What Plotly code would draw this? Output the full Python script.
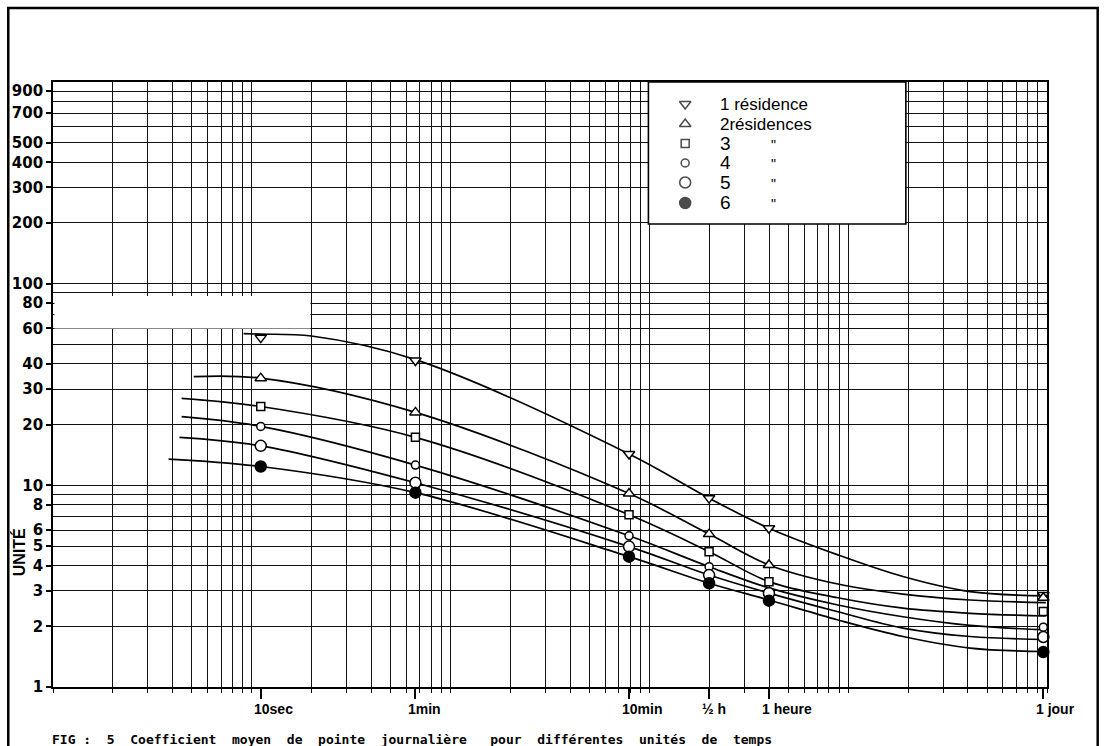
import numpy as np
import plotly.graph_objects as go

# ---------------- data ----------------
series_names = ["1 résidence", "2résidences", "3", "4", "5", "6"]
time_labels = ["10sec", "1min", "10min", "½ h", "1 heure", "1 jour"]
# horizontal position (in seconds) of each measured column, as drawn on the log paper
time_s = [10, 60, 712, 1800, 3600, 86400]

pts_1 = [54.0, 41.6, 14.3, 8.64, 6.13, 2.86]
pts_2 = [34.0, 23.0, 9.1, 5.73, 4.03, 2.77]
pts_3 = [24.6, 17.3, 7.15, 4.69, 3.33, 2.37]
pts_4 = [19.6, 12.6, 5.62, 3.95, 2.94, 1.98]
pts_5 = [15.7, 10.3, 4.97, 3.59, 2.92, 1.77]
pts_6 = [12.4, 9.2, 4.43, 3.27, 2.68, 1.49]

# hand-drawn fitted curves, read at points along each line
curve_t_1 = [8.2, 10, 18, 60, 712, 1800, 3600, 8000, 17000, 37000, 89000]
curve_v_1 = [56.5, 56.2, 55.0, 42.0, 14.3, 8.64, 6.13, 4.52, 3.53, 2.97, 2.83]
curve_t_2 = [4.6, 10, 60, 712, 1800, 3600, 8000, 17000, 37000, 89000]
curve_v_2 = [34.6, 34.0, 23.0, 9.1, 5.73, 4.03, 3.24, 2.89, 2.70, 2.62]
curve_t_3 = [4.0, 10, 60, 712, 1800, 3600, 8000, 17000, 37000, 89000]
curve_v_3 = [27.0, 24.6, 17.3, 7.15, 4.69, 3.33, 2.77, 2.46, 2.32, 2.25]
curve_t_4 = [4.0, 10, 60, 712, 1800, 3600, 8000, 17000, 37000, 89000]
curve_v_4 = [21.9, 19.6, 12.6, 5.62, 3.95, 3.10, 2.55, 2.23, 2.02, 1.92]
curve_t_5 = [3.9, 10, 60, 712, 1800, 3600, 8000, 17000, 37000, 89000]
curve_v_5 = [17.3, 15.7, 10.3, 4.97, 3.59, 2.92, 2.36, 1.96, 1.78, 1.72]
curve_t_6 = [3.44, 10, 60, 712, 1800, 3600, 8000, 17000, 37000, 89000]
curve_v_6 = [13.5, 12.4, 9.2, 4.43, 3.27, 2.70, 2.15, 1.78, 1.56, 1.50]

y_tick_vals = [1, 2, 3, 4, 5, 6, 8, 10, 20, 30, 40, 60, 80, 100, 200, 300, 400, 500, 700, 900]

caption = ("FIG :\u00a0\u00a05\u00a0\u00a0Coefficient\u00a0\u00a0moyen\u00a0\u00a0de\u00a0\u00a0pointe"
           "\u00a0\u00a0journalière\u00a0\u00a0\u00a0pour\u00a0\u00a0différentes\u00a0\u00a0unités"
           "\u00a0\u00a0de\u00a0\u00a0temps")

# ---------------- layout constants ----------------
W, H = 1108, 746
PL, PR, PT, PB = 47, 1047, 82, 687
X_LOG_MIN = -0.045
X_LOG_MAX = X_LOG_MIN + 5
GRID = "#111111"
GRID_W = 1.35

symbols = ["triangle-down", "triangle-up", "square", "circle", "circle", "circle"]
sizes = [10, 10, 8, 8, 11, 11]
fills = ["white", "white", "white", "white", "white", "black"]


def fx(px):
    return (px - PL) / (PR - PL)


def fy(py):
    return (PB - py) / (PB - PT)


grid_base = 10 ** X_LOG_MIN
grid_x = [grid_base * m * 10 ** k for k in range(5) for m in range(1, 10)] + [grid_base * 1e5]
grid_y_all = [m * 10 ** k for k in range(3) for m in range(1, 10)] + [1000]
minor_y = [v for v in grid_y_all if v not in y_tick_vals]

fig = go.Figure()

curves = [(curve_t_1, curve_v_1), (curve_t_2, curve_v_2), (curve_t_3, curve_v_3),
          (curve_t_4, curve_v_4), (curve_t_5, curve_v_5), (curve_t_6, curve_v_6)]
for t, v in curves:
    fig.add_trace(go.Scatter(x=t, y=v, mode="lines",
                             line=dict(color="black", width=1.7, shape="spline", smoothing=1.0),
                             showlegend=False, hoverinfo="skip"))

all_pts = [pts_1, pts_2, pts_3, pts_4, pts_5, pts_6]
for name, vals, sym, sz, fc in zip(series_names, all_pts, symbols, sizes, fills):
    fig.add_trace(go.Scatter(x=time_s, y=vals, mode="markers", name=name,
                             marker=dict(symbol=sym, size=sz, color=fc,
                                         line=dict(color="black", width=1.5)),
                             showlegend=False, cliponaxis=False))


# white boxes cut into the grid (overlay axes spanning the plot area, in fractions)
def box_trace(x0, x1, y0, y1, edge):
    return go.Scatter(x=[fx(x0), fx(x1), fx(x1), fx(x0), fx(x0)],
                      y=[fy(y0), fy(y0), fy(y1), fy(y1), fy(y0)],
                      xaxis="x3", yaxis="y3", mode="lines", fill="toself", fillcolor="white",
                      line=dict(color=edge, width=1.6), showlegend=False, hoverinfo="skip")


LEG_X0, LEG_X1, LEG_Y0, LEG_Y1 = 646, 905, 82, 224
leg_rows = [104, 124, 143.5, 163, 182.5, 203]
LEG_SYM_X, LEG_TXT_X, DITTO_X = 683, 716, 772

fig.add_trace(box_trace(48.5, 306, 296, 328.5, "rgba(0,0,0,0)"))
fig.add_trace(box_trace(LEG_X0, LEG_X1, LEG_Y0, LEG_Y1, "black"))
fig.add_trace(go.Scatter(x=[fx(LEG_SYM_X)] * 6, y=[fy(r) for r in leg_rows],
                         xaxis="x3", yaxis="y3", mode="markers",
                         marker=dict(symbol=symbols, size=sizes, color=fills,
                                     line=dict(color="black", width=1.5)),
                         showlegend=False, hoverinfo="skip"))

shapes = [
    # outer frame of the page
    dict(type="rect", xref="paper", yref="paper", x0=fx(2), x1=fx(1098), y0=fy(770), y1=fy(8),
         fillcolor="rgba(0,0,0,0)", line=dict(color="black", width=2.5), layer="above"),
]

annotations = []
for name, r in zip(series_names, leg_rows):
    big = len(name) == 1
    annotations.append(dict(xref="paper", yref="paper", x=fx(LEG_TXT_X), y=fy(r), text=name,
                            xanchor="left", yanchor="middle", showarrow=False,
                            font=dict(family="Liberation Sans", size=19 if big else 17, color="black")))
    if big:
        annotations.append(dict(xref="paper", yref="paper", x=fx(DITTO_X), y=fy(r + 1), text='"',
                                xanchor="center", yanchor="middle", showarrow=False,
                                font=dict(family="Liberation Sans", size=14, color="black")))

for lab, t in zip(time_labels, time_s):
    annotations.append(dict(xref="x", yref="paper", x=np.log10(t), y=fy(709), text=lab,
                            xanchor="left", yanchor="middle", xshift=-9, showarrow=False,
                            font=dict(family="Liberation Sans", size=14, color="black", weight="bold")))

annotations.append(dict(xref="paper", yref="paper", x=fx(13), y=fy(552), text="UNITÉ", textangle=-90,
                        xanchor="center", yanchor="middle", showarrow=False,
                        font=dict(family="Liberation Sans", size=16, color="black", weight="bold")))
annotations.append(dict(xref="paper", yref="paper", x=fx(44), y=fy(739), text=caption,
                        xanchor="left", yanchor="middle", showarrow=False,
                        font=dict(family="DejaVu Sans Mono", size=13, color="black", weight="bold")))

fig.update_layout(
    width=W, height=H,
    margin=dict(l=PL, r=W - PR, t=PT, b=H - PB),
    paper_bgcolor="white", plot_bgcolor="white",
    showlegend=False,
    xaxis=dict(type="log", range=[X_LOG_MIN, X_LOG_MAX], tickmode="array", tickvals=time_s,
               showticklabels=False, ticks="outside", ticklen=10, tickwidth=1.5, tickcolor="black",
               showgrid=False, zeroline=False, showline=True, linecolor="black", linewidth=1.7, mirror=True,
               minor=dict(tickmode="array", tickvals=grid_x, ticks="outside", ticklen=4, tickwidth=1.2,
                          tickcolor="black", showgrid=True, gridcolor=GRID, gridwidth=GRID_W)),
    yaxis=dict(type="log", range=[0, 3], tickmode="array", tickvals=y_tick_vals,
               ticktext=[str(v) for v in y_tick_vals], ticks="outside", ticklen=5, tickwidth=1.5,
               tickcolor="black", showgrid=True, gridcolor=GRID, gridwidth=GRID_W, zeroline=False,
               showline=True, linecolor="black", linewidth=1.7, mirror=True,
               tickfont=dict(family="DejaVu Sans", size=15, color="black", weight="bold"),
               minor=dict(tickmode="array", tickvals=minor_y, ticks="", showgrid=True,
                          gridcolor=GRID, gridwidth=GRID_W)),
    xaxis3=dict(overlaying="x", anchor="y3", range=[0, 1], visible=False),
    yaxis3=dict(overlaying="y", anchor="x3", range=[0, 1], visible=False),
    shapes=shapes,
    annotations=annotations,
)

fig.write_html("out.html")
